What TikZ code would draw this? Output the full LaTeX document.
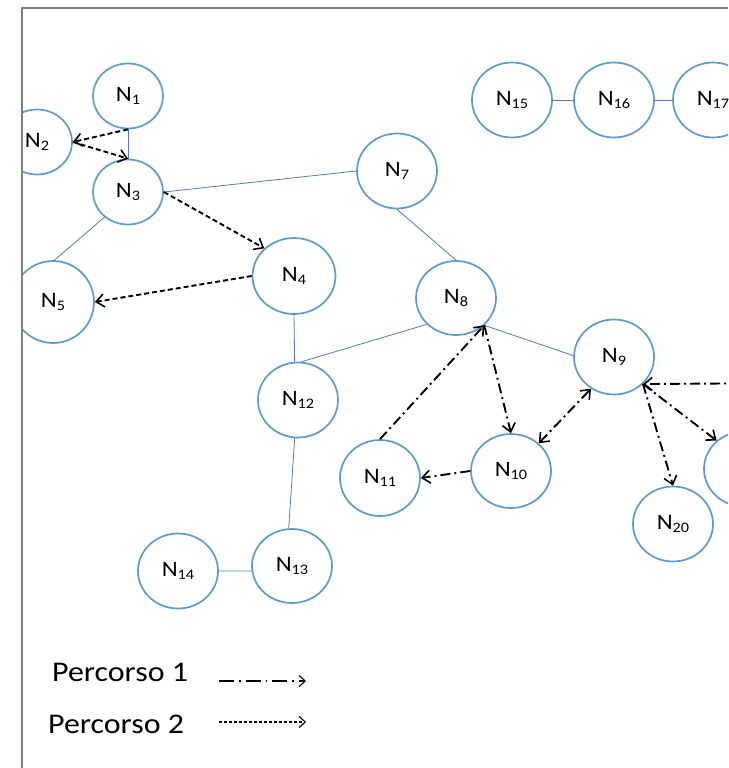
\documentclass[tikz,border=0pt]{standalone}
\usepackage{fontspec}
\setmainfont{Carlito}[FakeStretch=1.12]
\usetikzlibrary{shapes.geometric,arrows.meta}
\definecolor{nodeblue}{HTML}{5B9BD5}
\definecolor{edgeblue}{HTML}{4A7EC8}
\definecolor{framegray}{HTML}{808080}
\newcommand\nlab[1]{N\raisebox{-2.5pt}{\fontsize{14.5}{14.5}\selectfont #1}}
\tikzset{
  nd/.style={ellipse, draw=nodeblue, line width=1.7pt, fill=white,
    minimum width=80pt, minimum height=75pt, inner sep=0pt,
    font=\fontsize{22}{22}\selectfont},
  small/.style={minimum width=70pt, minimum height=65pt},
  link/.style={draw=edgeblue, line width=0.8pt},
  pathtwo/.style={black, line width=1.9pt, dash pattern=on 5pt off 3pt,
    -{Straight Barb[length=8pt,width=13pt,line width=1.6pt]}},
  pathone/.style={black, line width=1.9pt, dash pattern=on 10pt off 4pt on 2pt off 4pt,
    -{Straight Barb[length=8pt,width=13pt,line width=1.6pt]}},
  pathoneboth/.style={pathone,
    {Straight Barb[length=8pt,width=13pt,line width=1.6pt]}-{Straight Barb[length=8pt,width=13pt,line width=1.6pt]}},
  legtext/.style={anchor=base west, inner sep=0pt, font=\fontsize{28.5}{28.5}\selectfont},
}
\begin{document}
\begin{tikzpicture}[x=1pt,y=-1pt]
\useasboundingbox (0,0) rectangle (728,768);
\fill[white] (0,0) rectangle (728,768);
\begin{scope}
\clip (22,8) rectangle (728,768);
% nodes
\node[nd,small] (n1) at (128,96) {\nlab{1}};
\node[nd,small] (n2) at (37,142) {\nlab{2}};
\node[nd,small] (n3) at (128,192) {\nlab{3}};
\node[nd,minimum width=83pt,minimum height=76pt] (n4) at (294,276) {\nlab{4}};
\node[nd,minimum width=82pt,minimum height=82pt] (n5) at (53,302) {\nlab{5}};
\node[nd] (n7) at (397,171) {\nlab{7}};
\node[nd,minimum height=74pt] (n8) at (456,298) {\nlab{8}};
\node[nd] (n9) at (614,357) {\nlab{9}};
\node[nd,minimum height=74pt] (n10) at (511,471) {\nlab{10}};
\node[nd,minimum height=76pt] (n11) at (380,478) {\nlab{11}};
\node[nd] (n12) at (298,400) {\nlab{12}};
\node[nd,minimum height=74pt] (n13) at (292,566) {\nlab{13}};
\node[nd] (n14) at (178,571) {\nlab{14}};
\node[nd] (n15) at (512,100) {\nlab{15}};
\node[nd] (n16) at (614,100) {\nlab{16}};
\node[nd] (n17) at (713,100) {\nlab{17}};
\node[nd] (n19) at (744,469) {};
\node[nd] (n20) at (673,524) {\nlab{20}};
\coordinate (n18) at (800,383);
% plain links
\draw[link] (n1.south) -- (n3.north);
\draw[link] (n3.east) -- (n7.west);
\draw[link] (n3.227) -- (n5.88);
\draw[link] (n7.south) -- (n8.north);
\draw[link] (n4.south) -- (n12.95);
\draw[link] (n8.222) -- (n12.85);
\draw[link] (n8.316) -- (n9.178);
\draw[link] (n12.265) -- (n13.95);
\draw[link] (n14.east) -- (n13.187);
\draw[link] (n15.east) -- (n16.west);
\draw[link] (n16.east) -- (n17.west);
% route 2
\draw[pathtwo] (n1.south) -- (n2.east);
\draw[pathtwo] (n2.east) -- (n3.north);
\draw[pathtwo] (n3.east) -- (n4.137);
\draw[pathtwo] (n4.west) -- (n5.east);
% route 1
\draw[pathone] (n11.north) -- (n8.316);
\draw[pathone] (n8.316) -- (n10.north);
\draw[pathone] (n10.west) -- (n11.east);
\draw[pathoneboth] (n10.45) -- (n9.234);
\draw[pathone] (n18) -- (n9.317);
\draw[pathone] (n9.317) -- (n20.north);
\draw[pathone] (n9.317) -- (n19.134);
% legend
\node[legtext] (l1) at (52,681) {Percorso 1};
\node[legtext] (l2) at (48,733) {Percorso 2};
\coordinate (a1s) at (219,681);
\coordinate (a1e) at (306,681);
\coordinate (a2s) at (219,722);
\coordinate (a2e) at (306,722);
\draw[black, line width=1.1pt, dash pattern=on 15pt off 5pt on 1.5pt off 5pt,
  -{Straight Barb[length=6pt,width=11pt,line width=1.1pt]}] (a1s) -- (a1e);
\draw[black, line width=1.1pt, dash pattern=on 3pt off 2pt,
  -{Straight Barb[length=6pt,width=11pt,line width=1.1pt]}] (a2s) -- (a2e);
\end{scope}
% frame
\draw[framegray, line width=1.8pt] (22,768) -- (22,8) -- (728,8);
\end{tikzpicture}
\end{document}
